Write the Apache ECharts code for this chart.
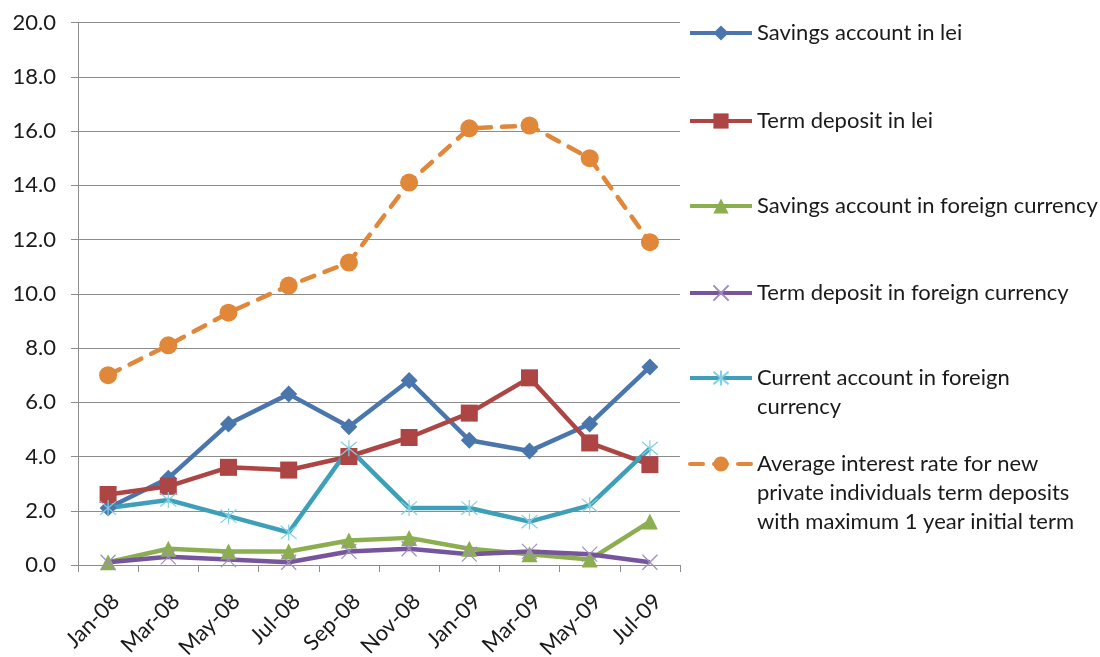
<!DOCTYPE html>
<html>
<head>
<meta charset="utf-8">
<script src="https://cdn.jsdelivr.net/npm/echarts@6/dist/echarts.min.js"></script>
<style>
  html, body { margin: 0; padding: 0; background: #fff; }
  #chart { width: 1100px; height: 657px; }
</style>
</head>
<body>
<div id="chart"></div>
<script>
// categories (months)
var months = ['Jan-08', 'Mar-08', 'May-08', 'Jul-08', 'Sep-08', 'Nov-08', 'Jan-09', 'Mar-09', 'May-09', 'Jul-09'];

// series names
var seriesNames = [
  'Savings account in lei',
  'Term deposit in lei',
  'Savings account in foreign currency',
  'Term deposit in foreign currency',
  'Current account in foreign\ncurrency',
  'Average interest rate for new\nprivate individuals term deposits\nwith maximum 1 year initial term'
];

// values, %
var savingsLei   = [2.1, 3.2, 5.2, 6.3, 5.1, 6.8, 4.6, 4.2, 5.2, 7.3];
var termLei      = [2.6, 2.9, 3.6, 3.5, 4.0, 4.7, 5.6, 6.9, 4.5, 3.7];
var savingsFx    = [0.1, 0.6, 0.5, 0.5, 0.9, 1.0, 0.6, 0.4, 0.2, 1.6];
var termFx       = [0.1, 0.3, 0.2, 0.1, 0.5, 0.6, 0.4, 0.5, 0.4, 0.1];
var currentFx    = [2.1, 2.4, 1.8, 1.2, 4.3, 2.1, 2.1, 1.6, 2.2, 4.3];
var averageRate  = [7.0, 8.1, 9.3, 10.3, 11.15, 14.1, 16.1, 16.2, 15.0, 11.9];

// y axis ticks
var yMin = 0, yMax = 20, yStep = 2;

var FONT = 'Lato, "Open Sans", sans-serif';
var xMark = 'path://M0,0L10,10M10,0L0,10';
var starMark = 'path://M0,0L10,10M10,0L0,10M5,-1L5,11';
var LINE_H = 29;

var chart = echarts.init(document.getElementById('chart'));

// one legend per entry so each sits where it does in the original.
// blank lines are put in front of wrapped names so the first line stays level with the icon
var legendCenters = [33, 121, 206, 293, 378, 464];
var legends = seriesNames.map(function (name, i) {
  var extra = name.split('\n').length - 1;
  return {
    data: [name],
    left: 683,
    top: legendCenters[i] - 5 - (2 * extra + 1) * LINE_H / 2,
    orient: 'vertical',
    itemWidth: 62,
    itemHeight: 19,
    selectedMode: false,
    lineStyle: { width: 4 },
    formatter: function (n) {
      var pad = '';
      for (var k = 0; k < extra; k++) pad += '\n';
      return pad + n;
    },
    textStyle: {
      fontFamily: FONT,
      fontSize: 22,
      color: '#1a1a1a',
      lineHeight: LINE_H
    }
  };
});

function lineSeries(name, data, color, extra) {
  var s = {
    name: name,
    type: 'line',
    data: data,
    symbolSize: 14,
    color: color,
    lineStyle: { width: 4.5, color: color },
    itemStyle: { color: color },
    emphasis: { disabled: true },
    animation: false
  };
  return Object.assign(s, extra || {});
}

var option = {
  backgroundColor: '#fff',
  animation: false,
  legend: legends,
  grid: { left: 78, right: 420, top: 22.5, bottom: 92, containLabel: false, outerBoundsMode: 'none' },
  xAxis: {
    type: 'category',
    data: months,
    boundaryGap: true,
    axisLine: { lineStyle: { color: '#8c8c8c', width: 1 } },
    axisTick: { show: true, length: 7, interval: 0, lineStyle: { color: '#8c8c8c' } },
    axisLabel: {
      interval: 0,
      rotate: 45,
      margin: 25,
      verticalAlign: 'top',
      fontFamily: FONT,
      fontSize: 22,
      color: '#1a1a1a'
    },
    splitLine: { show: false }
  },
  yAxis: {
    type: 'value',
    min: yMin,
    max: yMax,
    interval: yStep,
    axisLine: { show: true, lineStyle: { color: '#8c8c8c', width: 1 } },
    axisTick: { show: true, length: 7, lineStyle: { color: '#8c8c8c' } },
    axisLabel: {
      margin: 22,
      fontFamily: FONT,
      fontSize: 22,
      color: '#1a1a1a',
      formatter: function (v) { return v.toFixed(1); }
    },
    splitLine: { show: true, lineStyle: { color: '#8c8c8c', width: 1 } }
  },
  series: [
    lineSeries(seriesNames[0], savingsLei, '#4a76ae', { symbol: 'diamond', symbolSize: 17 }),
    lineSeries(seriesNames[1], termLei, '#ac4544', { symbol: 'rect', symbolSize: 17 }),
    lineSeries(seriesNames[2], savingsFx, '#8bae4f', { symbol: 'triangle', symbolSize: 16 }),
    lineSeries(seriesNames[3], termFx, '#76559c', {
      symbol: xMark,
      symbolSize: 15,
      itemStyle: { color: 'none', borderColor: '#a08cc4', borderWidth: 1.2 }
    }),
    lineSeries(seriesNames[4], currentFx, '#3da0b8', {
      symbol: starMark,
      symbolSize: 16,
      itemStyle: { color: 'none', borderColor: '#7fd0e4', borderWidth: 1.2 }
    }),
    lineSeries(seriesNames[5], averageRate, '#e0873a', {
      symbol: 'circle',
      symbolSize: 18,
      lineStyle: { width: 4.5, color: '#e0873a', type: [13, 11], cap: 'round' }
    })
  ]
};

chart.setOption(option);
</script>
</body>
</html>
